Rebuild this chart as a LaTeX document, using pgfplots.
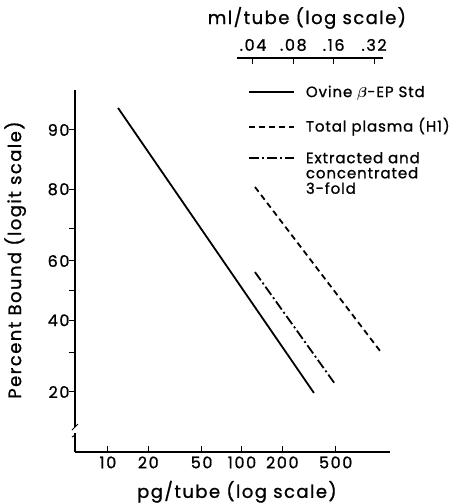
\documentclass[border=0pt]{standalone}
\usepackage{amsmath}
\usepackage{fontspec}
\setmainfont{Poppins}[FakeBold=1, LetterSpace=6]
\newfontfamily\tickfont{Poppins}[FakeBold=1, LetterSpace=10]
\newfontfamily\labelfont{Poppins}[FakeBold=1, LetterSpace=8]
\usepackage{pgfplots}
\usepackage{pgfplotstable}
\pgfplotsset{compat=1.18}

% percent bound values; plotted on a logit scale: ln(p/(100-p))
\pgfplotstableread{
pg p
11.9 92.4
344 19.8
}\stdtab
\pgfplotstableread{
pg p
125 80.5
1070 30.5
}\plasmatab
\pgfplotstableread{
pg p
125 56.3
500 21.6
}\extab
% upper scale: ml/tube and the matching pg/tube position (1 ml = 3020 pg)
\pgfplotstableread{
ml pg
0.04 120.8
0.08 241.6
0.16 483.2
0.32 966.4
}\mltab

\begin{document}
\begin{tikzpicture}[x=1pt,y=1pt]
\useasboundingbox (-75,-52) rectangle (389,452);
\begin{axis}[name=main, at={(0pt,0pt)}, anchor=south west,
  scale only axis, width=315pt, height=362pt, clip=false,
  xmode=log, xmin=5.68, xmax=1271, ymin=-2.207, ymax=2.744,
  axis lines=left, axis line style={-, line width=1.1pt},
  xtick={10,20,50,100,200,500}, xticklabels={10,20,50,100,200,500},
  xminorticks=false,
  ytick={-1.3863,-0.8473,-0.4055,0,0.4055,0.8473,1.3863,2.1972},
  yticklabels={20,,40,,60,,80,90},
  tick align=inside, major tick length=6pt,
  tick style={line width=1pt, black},
  ytick style={xshift=-6pt},
  every tick label/.append style={font=\tickfont\fontsize{16}{18}\selectfont},
  yticklabel style={xshift=-2pt},
  xticklabel style={yshift=-1pt},
  xlabel={pg/tube (log scale)},
  ylabel={Percent Bound (logit scale)},
  label style={font=\labelfont\fontsize{18}{20}\selectfont},
  xlabel style={at={(axis description cs:0.514,-0.11)}, anchor=center},
  ylabel style={at={(axis description cs:-0.19,0.53)}, anchor=center},
  legend cell align=left,
  legend style={draw=none, fill=none, at={(axis description cs:0.549,1.018)}, anchor=north west,
    inner sep=0pt, row sep=15pt, column sep=9pt,
    font=\fontsize{15}{15}\selectfont,
    cells={anchor=base west}},
  legend image code/.code={\draw[#1, line width=1.8pt] (0pt,5pt) -- (45pt,5pt);},
]
\addplot[black, line width=1.8pt] table[x=pg, y expr={ln(\thisrow{p}/(100-\thisrow{p}))}] {\stdtab};
\addlegendentry{Ovine $\boldsymbol{\beta}$-EP Std}
\addplot[black, line width=1.8pt, dash pattern=on 6pt off 4pt] table[x=pg, y expr={ln(\thisrow{p}/(100-\thisrow{p}))}] {\plasmatab};
\addlegendentry{Total plasma (H1)}
\addplot[black, line width=1.8pt, dash pattern=on 10pt off 3pt on 2pt off 3pt] table[x=pg, y expr={ln(\thisrow{p}/(100-\thisrow{p}))}] {\extab};
\addlegendentry{\begin{tabular}[t]{@{}l@{}}Extracted and\\[-0.5pt]concentrated\\[-0.5pt]3-fold\end{tabular}}
% upper ml/tube scale (axis line, ticks, labels)
\draw[line width=1.1pt] (axis cs:91.8,3.182) -- (axis cs:1127,3.182);
\pgfplotsinvokeforeach{120.8,241.6,483.2,966.4}{
  \draw[line width=1pt] (axis cs:#1,3.182) -- (axis cs:#1,3.10);
}
\node[font=\tickfont\fontsize{16}{18}\selectfont, anchor=center] at (axis cs:120.8,3.36) {.04};
\node[font=\tickfont\fontsize{16}{18}\selectfont, anchor=center] at (axis cs:241.6,3.36) {.08};
\node[font=\tickfont\fontsize{16}{18}\selectfont, anchor=center] at (axis cs:483.2,3.36) {.16};
\node[font=\tickfont\fontsize{16}{18}\selectfont, anchor=center] at (axis cs:966.4,3.36) {.32};
\node[font=\labelfont\fontsize{18}{20}\selectfont, anchor=center] at (axis cs:305,3.729) {ml/tube (log scale)};
\end{axis}
% axis break on y axis
\fill[white] (-5,19) rectangle (5,25);
\draw[line width=1pt] (-3,22) -- (3,28);
\draw[line width=1pt] (-3,15) .. controls (0,17) and (0,17) .. (0,12);
\end{tikzpicture}
\end{document}
